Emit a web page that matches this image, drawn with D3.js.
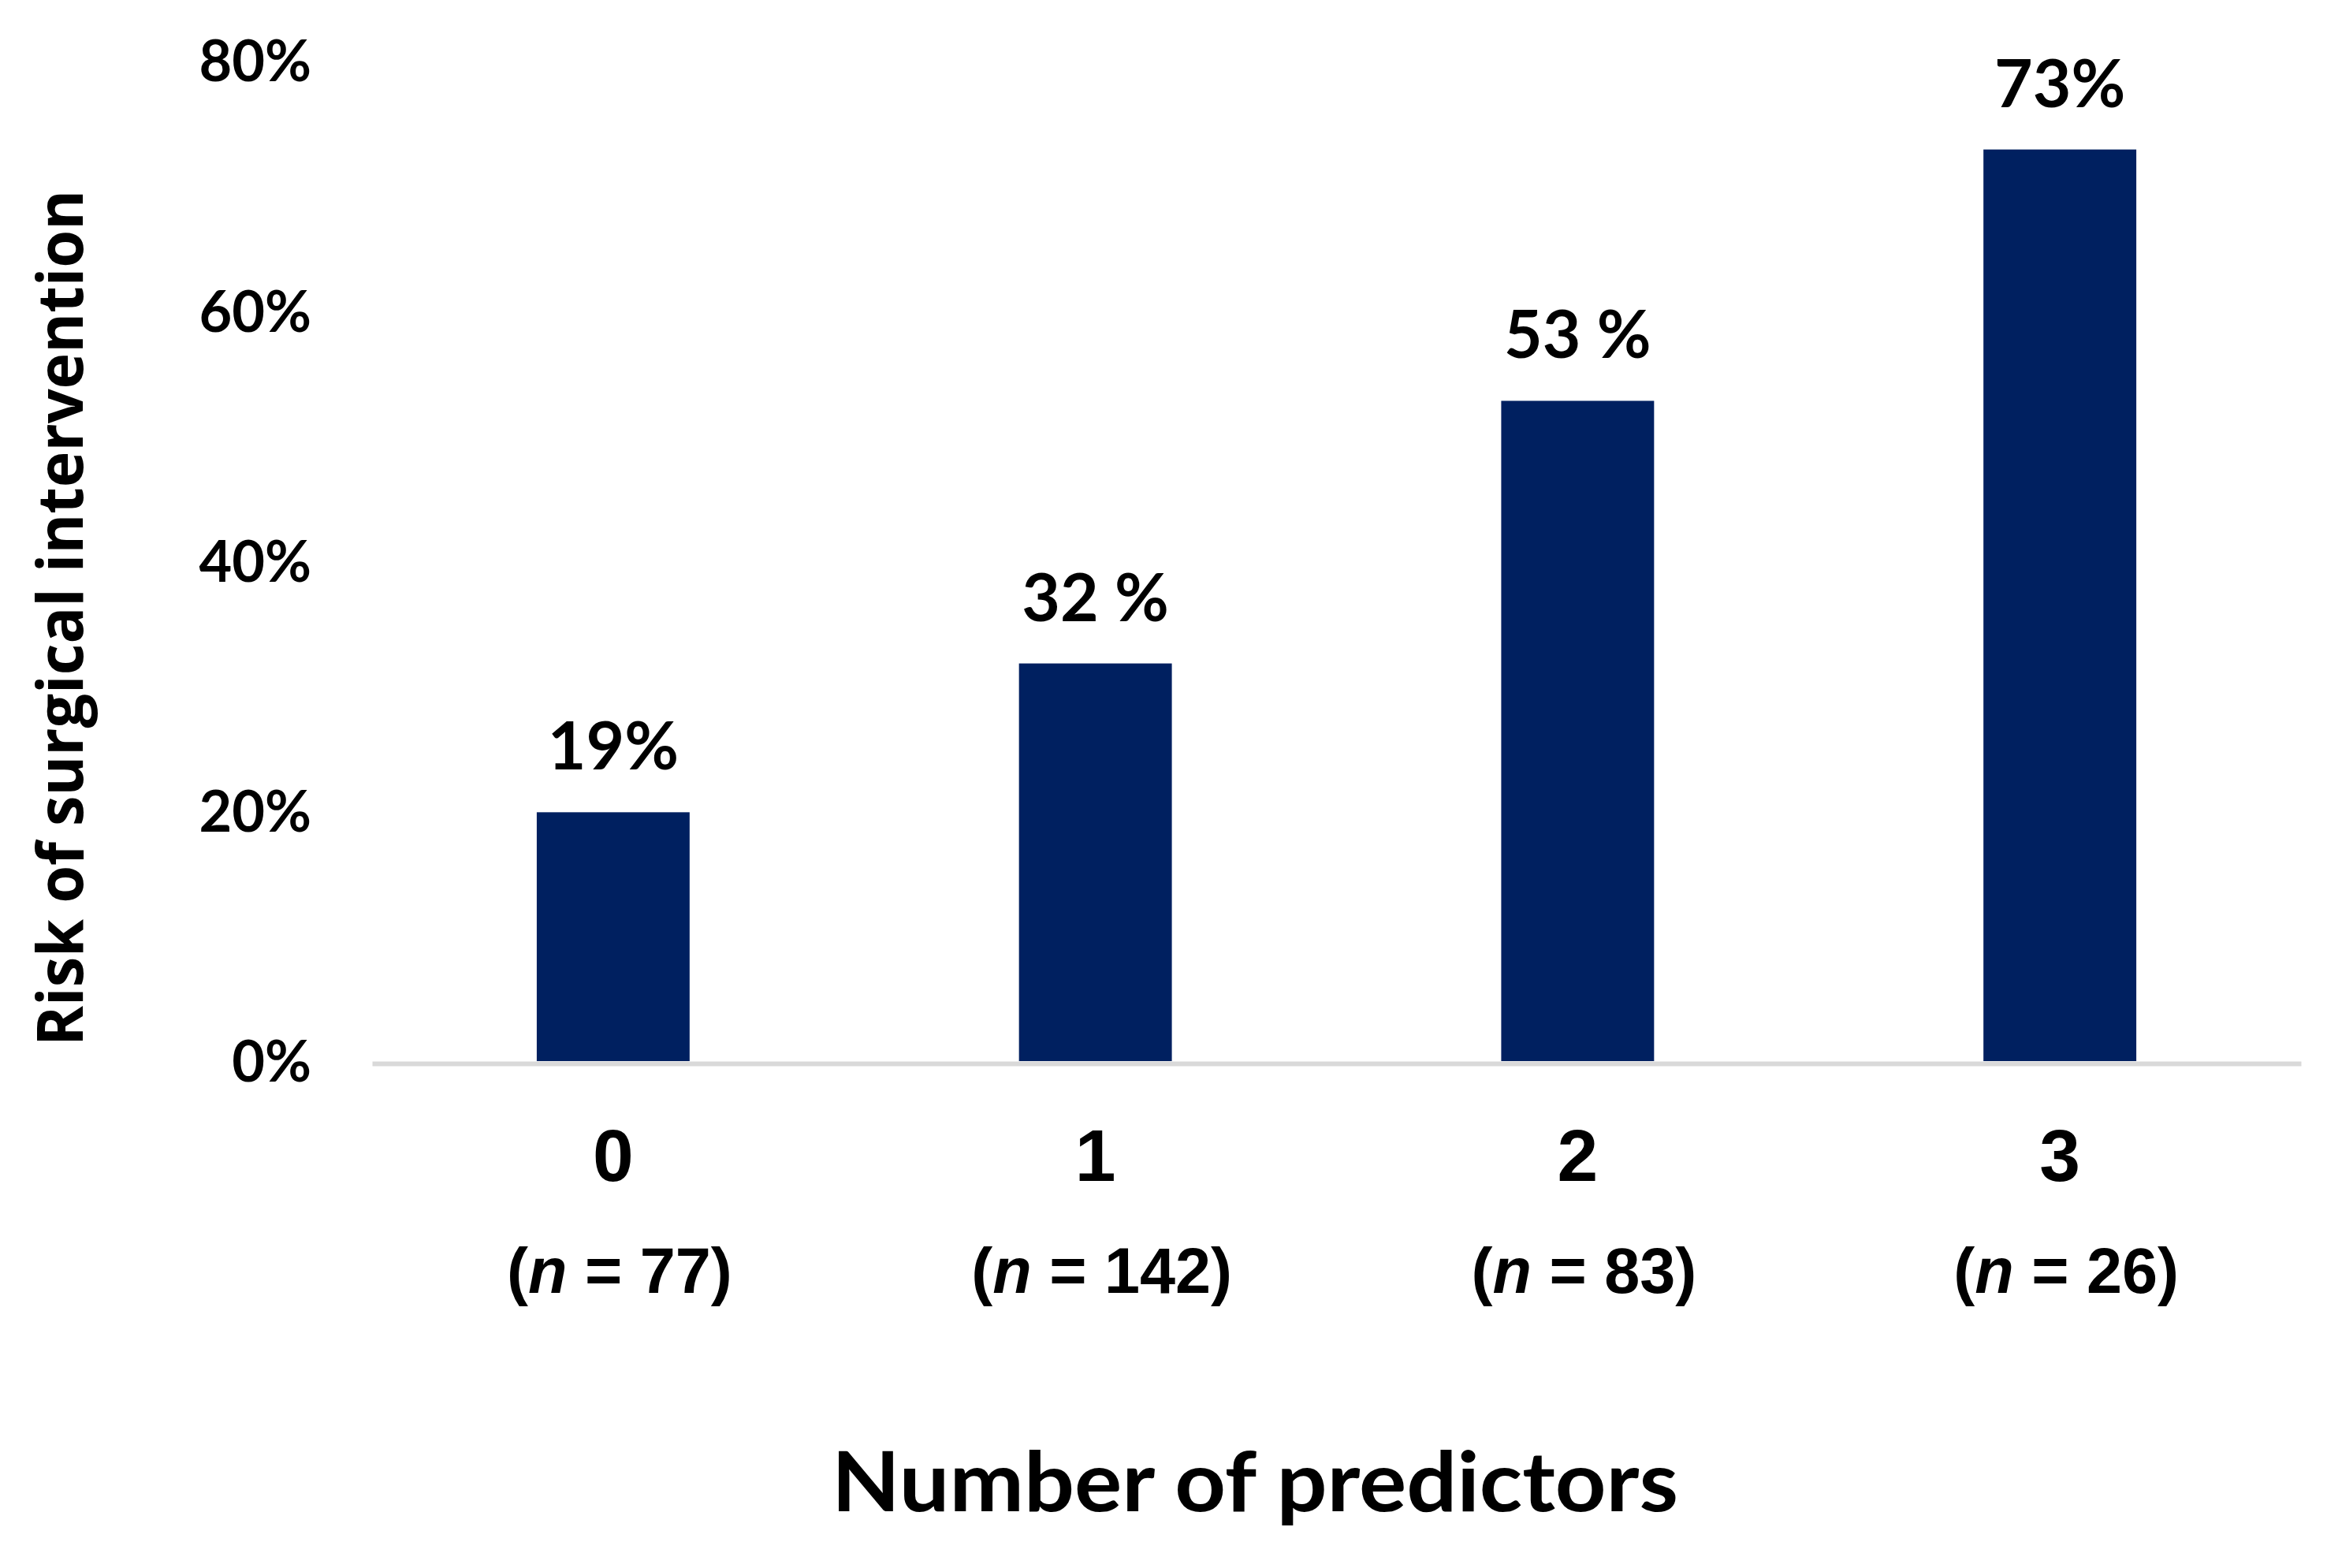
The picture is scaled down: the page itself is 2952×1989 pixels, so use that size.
<!DOCTYPE html>
<html>
<head>
<meta charset="utf-8">
<script src="https://cdn.jsdelivr.net/npm/d3@7/dist/d3.min.js"></script>
<style>
  html, body { margin: 0; padding: 0; background: #ffffff; }
  svg { display: block; }
</style>
</head>
<body>
<svg id="chart" width="2952" height="1989"></svg>
<script>
// ---- data ----
const categories = ["0", "1", "2", "3"];
const values = [19.9, 31.8, 52.8, 72.9];
const valueLabels = ["19%", "32 %", "53 %", "73%"];
const sampleSizes = ["77", "142", "83", "26"];
const yTicks = [0, 20, 40, 60, 80];
const yTitle = "Risk of surgical intervention";
const xTitle = "Number of predictors";

// ---- layout ----
const W = 2952, H = 1989;
const plotLeft = 472, plotRight = 2919;
const yBottom = 1346, yTop = 77;

const svg = d3.select("#chart");
svg.append("rect").attr("width", W).attr("height", H).attr("fill", "#ffffff");

const x = d3.scaleBand()
  .domain(categories)
  .range([plotLeft, plotRight])
  .paddingInner(0.683)
  .paddingOuter(0.3415);

const y = d3.scaleLinear().domain([0, 80]).range([yBottom, yTop]);

// Y axis tick labels
const yAxis = d3.axisLeft(y)
  .tickValues(yTicks)
  .tickFormat(d => d + "%")
  .tickSize(0)
  .tickPadding(77);
const gy = svg.append("g").attr("transform", `translate(${plotLeft},0)`).call(yAxis);
gy.select(".domain").remove();
gy.selectAll("text")
  .attr("font-family", "Lato, 'Open Sans', sans-serif")
  .attr("font-weight", 700)
  .attr("font-size", 72)
  .attr("fill", "#000")
  .attr("dy", "0.36em");

// Bars
svg.append("g").selectAll("rect.bar")
  .data(categories)
  .join("rect")
  .attr("class", "bar")
  .attr("x", d => x(d))
  .attr("width", x.bandwidth())
  .attr("y", (d, i) => y(values[i]))
  .attr("height", (d, i) => y(0) - y(values[i]))
  .attr("fill", "#002060");

// Baseline / X axis
const xAxis = d3.axisBottom(x).tickSize(0).tickSizeOuter(0).tickPadding(0);
const gx = svg.append("g").attr("transform", `translate(0,${yBottom + 3})`).call(xAxis);
gx.select(".domain").attr("stroke", "#d9d9d9").attr("stroke-width", 6);
gx.selectAll("text")
  .attr("font-family", "'Liberation Sans', Arial, sans-serif")
  .attr("font-weight", 700)
  .attr("font-size", 93)
  .attr("fill", "#000")
  .attr("dy", null)
  .attr("y", 1498 - (yBottom + 3));

// Value labels
svg.append("g").selectAll("text.val")
  .data(categories)
  .join("text")
  .attr("class", "val")
  .attr("x", d => x(d) + x.bandwidth() / 2)
  .attr("y", (d, i) => y(values[i]) - 54)
  .attr("text-anchor", "middle")
  .attr("font-family", "Lato, 'Open Sans', sans-serif")
  .attr("font-weight", 700)
  .attr("font-size", 84)
  .attr("fill", "#000")
  .text((d, i) => valueLabels[i]);

// Sample size labels
const nl = svg.append("g").selectAll("text.n")
  .data(categories)
  .join("text")
  .attr("class", "n")
  .attr("x", d => x(d) + x.bandwidth() / 2 + 8)
  .attr("y", 1640)
  .attr("text-anchor", "middle")
  .attr("font-family", "'Liberation Sans', Arial, sans-serif")
  .attr("font-weight", 700)
  .attr("font-size", 81)
  .attr("fill", "#000");
nl.append("tspan").text("(");
nl.append("tspan").attr("font-style", "italic").text("n");
nl.append("tspan").text((d, i) => " = " + sampleSizes[i] + ")");

// Axis titles
svg.append("text")
  .attr("x", 1592)
  .attr("y", 1917)
  .attr("text-anchor", "middle")
  .attr("font-family", "Lato, 'Open Sans', sans-serif")
  .attr("font-weight", 700)
  .attr("font-size", 106)
  .attr("fill", "#000")
  .attr("textLength", 1074)
  .attr("lengthAdjust", "spacingAndGlyphs")
  .text(xTitle);

svg.append("text")
  .attr("transform", "translate(105,784) rotate(-90)")
  .attr("text-anchor", "middle")
  .attr("font-family", "'Open Sans', Lato, sans-serif")
  .attr("font-weight", 700)
  .attr("font-size", 80)
  .attr("fill", "#000")
  .attr("textLength", 1086)
  .attr("lengthAdjust", "spacingAndGlyphs")
  .text(yTitle);
</script>
</body>
</html>
